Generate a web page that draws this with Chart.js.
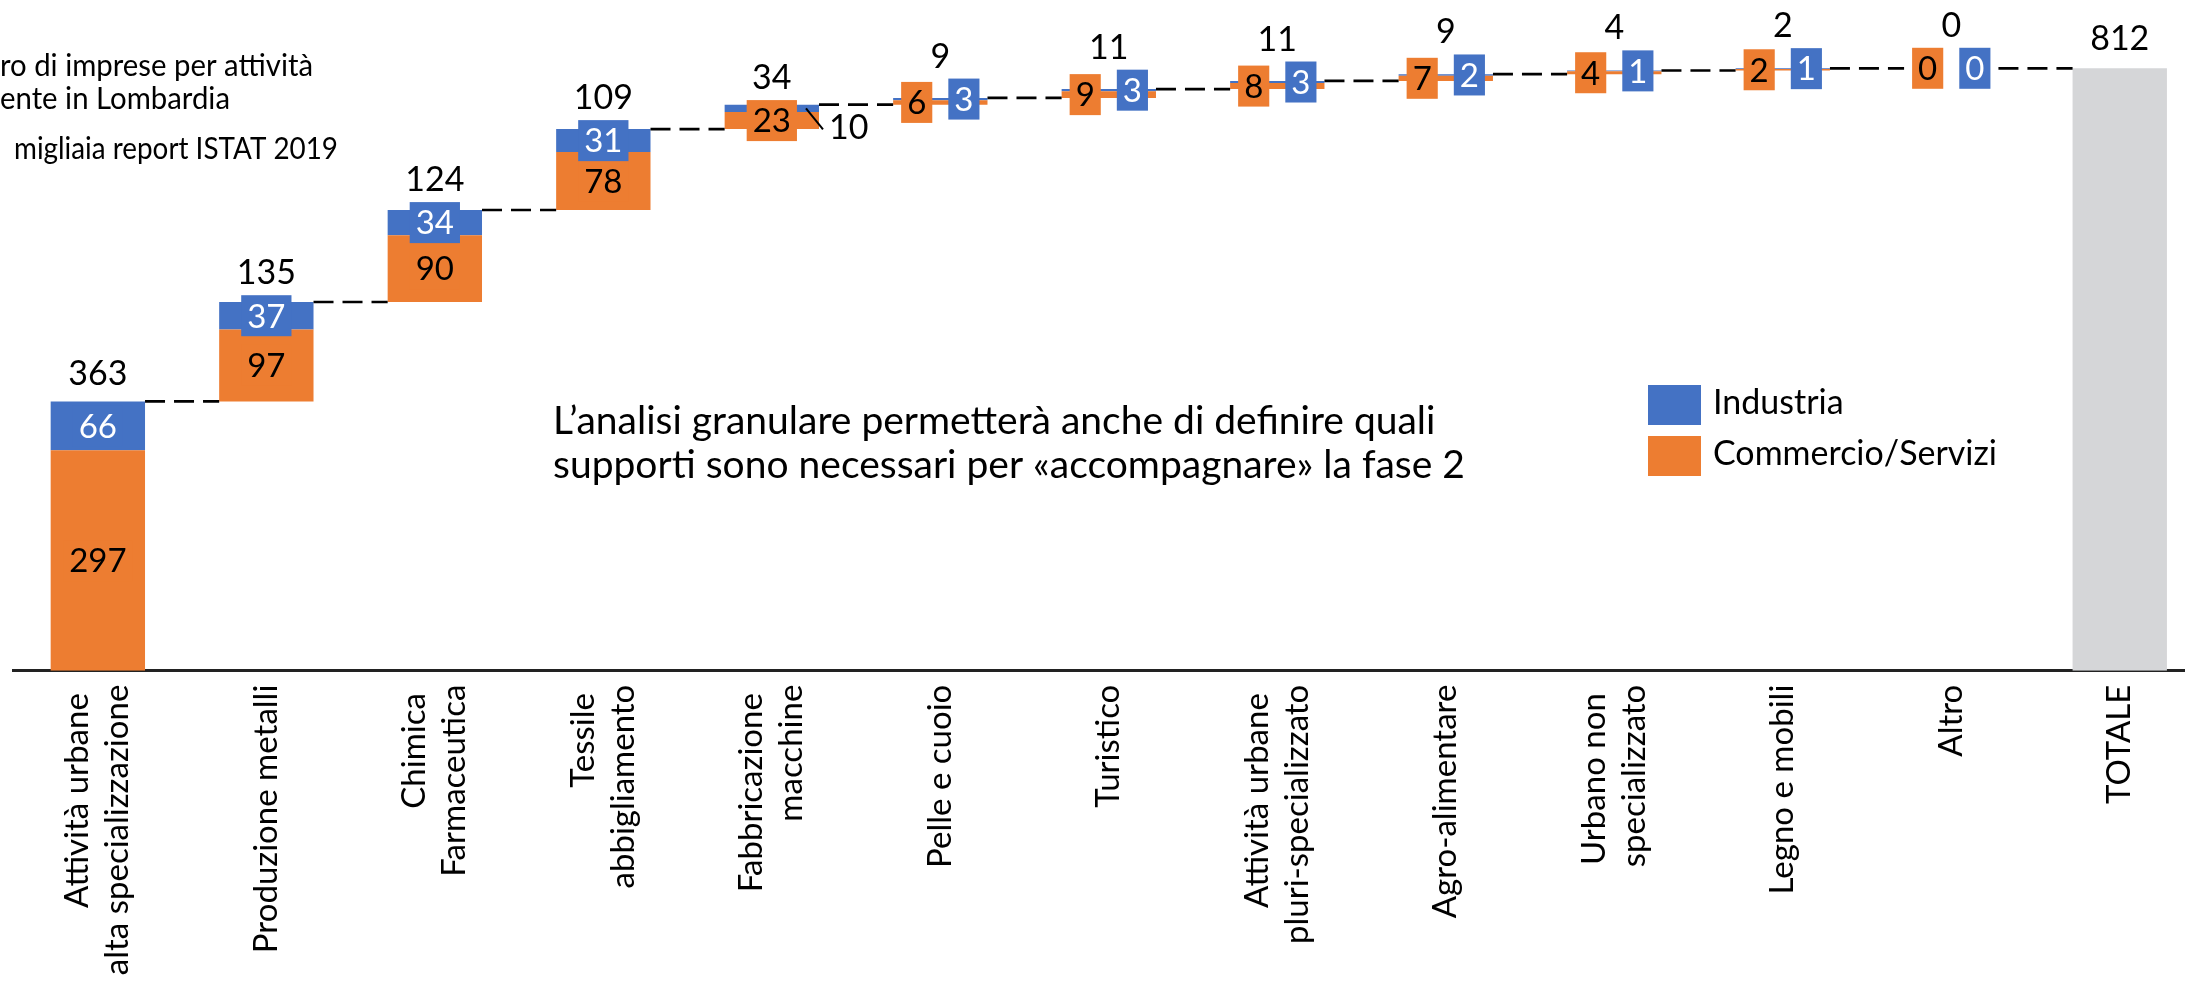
<!DOCTYPE html>
<html>
<head>
<meta charset="utf-8">
<title>Imprese per attività in Lombardia</title>
<script src="https://cdn.jsdelivr.net/npm/chart.js"></script>
<style>
  html, body { margin: 0; padding: 0; background: #fff; overflow: hidden; }
  #wrap { position: relative; width: 2204px; height: 989px; }
</style>
</head>
<body>
<div id="wrap"><canvas id="chart" width="2204" height="989"></canvas></div>
<script>
// categories (first lines keep their trailing space, as in the original slide)
const categories = [
  ['Attività urbane ', 'alta specializzazione'],
  'Produzione metalli',
  ['Chimica ', 'Farmaceutica'],
  ['Tessile ', 'abbigliamento'],
  ['Fabbricazione ', 'macchine'],
  'Pelle e cuoio',
  'Turistico',
  ['Attività urbane ', 'pluri-specializzato'],
  'Agro-alimentare',
  ['Urbano non ', 'specializzato'],
  'Legno e mobili',
  'Altro',
  'TOTALE'
];
const commercio = [297, 97, 90, 78, 23, 6, 9, 8, 7, 4, 2, 0];
const industria = [66, 37, 34, 31, 10, 3, 3, 3, 2, 1, 1, 0];
const totali = [363, 135, 124, 109, 34, 9, 11, 11, 9, 4, 2, 0];
const totaleGenerale = 812;

const titleLines = ['ro di imprese per attività', 'ente in Lombardia', 'migliaia report ISTAT 2019'];
const noteLines = [
  'L\u2019analisi granulare permetterà anche di definire quali',
  'supporti sono necessari per «accompagnare» la fase 2'
];

const BLUE = '#4472C4';
const ORANGE = '#ED7D31';
const GREY = '#D5D6D8';
const FONT = 'Lato, "Open Sans", sans-serif';

// invisible base of every floating step
const bases = [];
let run = 0;
for (let i = 0; i < commercio.length; i++) {
  bases.push(run);
  run += commercio[i] + industria[i];
}
const n = commercio.length;

function labelBox(ctx, text, cx, cy, fill, color) {
  ctx.font = '33px ' + FONT;
  const w = ctx.measureText(text).width + 12;
  const h = 41;
  ctx.fillStyle = fill;
  ctx.fillRect(cx - w / 2, cy - h / 2, w, h);
  ctx.fillStyle = color;
  ctx.textAlign = 'center';
  ctx.textBaseline = 'alphabetic';
  ctx.fillText(text, cx, cy + 11.8);
  return cy - h / 2;
}

const decor = {
  id: 'decor',
  afterDatasetsDraw(chart) {
    const ctx = chart.ctx;
    const y = chart.scales.y;
    const oMeta = chart.getDatasetMeta(1);
    const tMeta = chart.getDatasetMeta(3);
    ctx.save();

    // dashed connectors
    ctx.strokeStyle = '#000';
    ctx.lineWidth = 2.7;
    ctx.setLineDash([20, 9]);
    for (let i = 0; i < n; i++) {
      const a = oMeta.data[i];
      const b = i + 1 < n ? oMeta.data[i + 1] : tMeta.data[n];
      const lvl = y.getPixelForValue(bases[i] + commercio[i] + industria[i]);
      ctx.beginPath();
      ctx.moveTo(a.x + a.width / 2, lvl);
      ctx.lineTo(b.x - b.width / 2, lvl);
      ctx.stroke();
    }
    ctx.setLineDash([]);

    // value boxes and step totals
    for (let i = 0; i < n; i++) {
      const el = oMeta.data[i];
      const cx = el.x, w = el.width;
      const yB = y.getPixelForValue(bases[i]);
      const yM = y.getPixelForValue(bases[i] + commercio[i]);
      const yT = y.getPixelForValue(bases[i] + commercio[i] + industria[i]);
      const oy = (yB + yM) / 2, by = (yM + yT) / 2;
      let top;
      if (yB - yT < 15) {
        const t1 = labelBox(ctx, String(commercio[i]), cx - w / 4, oy, ORANGE, '#000');
        const t2 = labelBox(ctx, String(industria[i]), cx + w / 4, by, BLUE, '#fff');
        top = Math.min(t1, t2);
      } else {
        top = labelBox(ctx, String(commercio[i]), cx, oy, ORANGE, '#000');
        if (by + 20.5 > top + 1) {
          // no room: label moved out with a leader line
          const r = cx + w / 2;
          ctx.strokeStyle = '#000';
          ctx.lineWidth = 2;
          ctx.beginPath();
          ctx.moveTo(r - 13, by);
          ctx.lineTo(r + 4, by + 21);
          ctx.stroke();
          ctx.fillStyle = '#000';
          ctx.font = '34px ' + FONT;
          ctx.textAlign = 'left';
          ctx.fillText(String(industria[i]), r + 10, by + 31);
        } else {
          top = Math.min(top, labelBox(ctx, String(industria[i]), cx, by, BLUE, '#fff'));
        }
      }
      ctx.fillStyle = '#000';
      ctx.font = '34px ' + FONT;
      ctx.textAlign = 'center';
      ctx.textBaseline = 'alphabetic';
      ctx.fillText(String(totali[i]), cx, Math.min(yT - 16, top - 11));
    }
    const tot = tMeta.data[n];
    ctx.fillText(String(totaleGenerale), tot.x, y.getPixelForValue(totaleGenerale) - 18);
    ctx.restore();
  },
  afterDraw(chart) {
    const ctx = chart.ctx;
    ctx.save();
    ctx.fillStyle = '#000';
    ctx.textAlign = 'left';
    ctx.textBaseline = 'alphabetic';

    // title fragment (cut at the left edge)
    ctx.font = '30px ' + FONT;
    ctx.fillText(titleLines[0], 0, 76, 313);
    ctx.fillText(titleLines[1], 0, 108.5, 230);
    ctx.fillText(titleLines[2], 14, 159, 324);

    // note
    ctx.font = '39px ' + FONT;
    ctx.fillText(noteLines[0], 553, 434, 892);
    ctx.fillText(noteLines[1], 553, 478, 938);

    // legend
    const ds = chart.data.datasets;
    ctx.fillStyle = BLUE;
    ctx.fillRect(1648, 385, 53, 40);
    ctx.fillStyle = ORANGE;
    ctx.fillRect(1648, 436, 53, 40);
    ctx.fillStyle = '#000';
    ctx.font = '34px ' + FONT;
    ctx.fillText(ds[2].label, 1713, 413.5, 132);
    ctx.fillText(ds[1].label, 1713, 464.5, 284);
    ctx.restore();
  }
};

const ctx = document.getElementById('chart').getContext('2d');
new Chart(ctx, {
  type: 'bar',
  data: {
    labels: categories,
    datasets: [
      { label: 'base', data: bases.concat([0]), backgroundColor: 'rgba(0,0,0,0)' },
      { label: 'Commercio/Servizi', data: commercio.concat([null]), backgroundColor: ORANGE },
      { label: 'Industria', data: industria.concat([null]), backgroundColor: BLUE },
      { label: 'TOTALE', data: new Array(n).fill(null).concat([totaleGenerale]), backgroundColor: GREY }
    ]
  },
  options: {
    responsive: false,
    animation: false,
    devicePixelRatio: 1,
    layout: { padding: { left: 13.6, right: 0, top: 3, bottom: 0 } },
    datasets: { bar: { categoryPercentage: 1, barPercentage: 0.56 } },
    plugins: { legend: { display: false }, tooltip: { enabled: false } },
    scales: {
      x: {
        stacked: true,
        z: 1,
        grid: { display: false, drawTicks: false },
        border: { display: true, color: '#222', width: 3 },
        ticks: {
          autoSkip: false,
          minRotation: 90,
          maxRotation: 90,
          padding: 14,
          labelOffset: -20,
          color: '#000',
          font: { family: FONT, size: 33, lineHeight: 40 / 33 },
          showLabelBackdrop: (c) => !Array.isArray(c.tick && c.tick.label),
          backdropColor: 'rgba(0,0,0,0)'
        },
        afterFit(scale) { scale.height = 318.3; }
      },
      y: { display: false, stacked: true, min: 0, max: 900 }
    }
  },
  plugins: [decor]
});
</script>
</body>
</html>
